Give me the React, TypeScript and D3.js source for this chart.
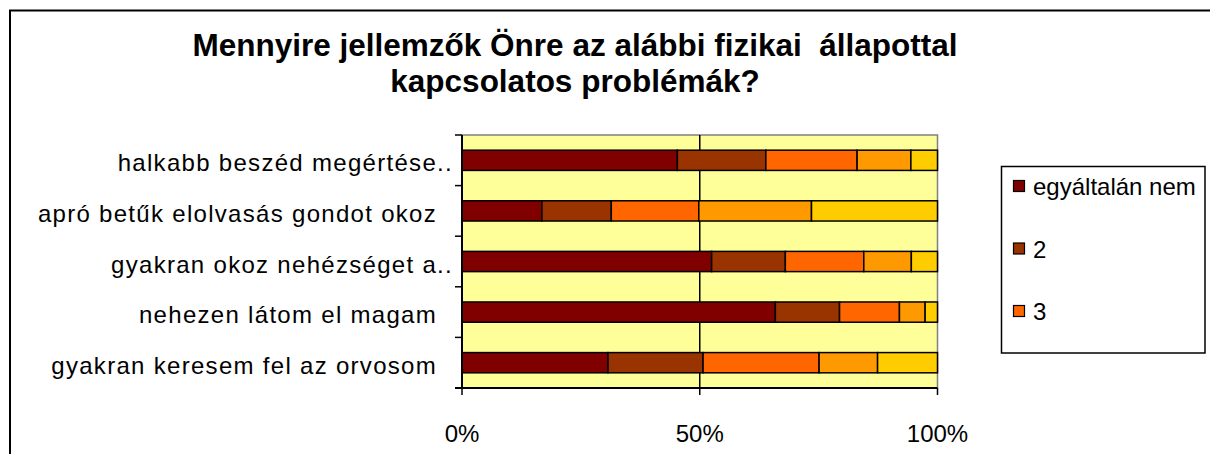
import React from "react";
import * as d3 from "d3";

const categories = [
  "halkabb beszéd megértése..",
  "apró betűk elolvasás gondot okoz  ",
  "gyakran okoz nehézséget a..",
  "nehezen látom el magam  ",
  "gyakran keresem fel az orvosom  ",
];
const seriesNames = ["egyáltalán nem", "2", "3", "4", "nagyon jellemző"];
const s1 = [45.3, 16.8, 52.5, 65.9, 30.7];
const s2 = [18.6, 14.6, 15.5, 13.5, 20.0];
const s3 = [19.2, 18.4, 16.5, 12.6, 24.4];
const s4 = [11.3, 23.7, 10.0, 5.4, 12.3];
const s5 = [5.6, 26.5, 5.5, 2.6, 12.6];
const seriesValues = [s1, s2, s3, s4, s5];
const colors = ["#800000", "#993300", "#FF6600", "#FF9900", "#FFCC00"];
const xTicks = [0, 0.5, 1];
const titleLines = [
  "Mennyire jellemzők Önre az alábbi fizikai  állapottal",
  "kapcsolatos problémák?",
];

const FONT = "'Liberation Sans', Arial, sans-serif";

export default function App() {
  const W = 1210, H = 454;
  const left = 462, right = 937.5, top = 135, bottom = 388;
  const x = d3.scaleLinear().domain([0, 1]).range([left, right]);
  const y = d3
    .scaleBand<string>()
    .domain(categories)
    .range([top, bottom])
    .paddingInner(0.6)
    .paddingOuter(0.3);

  const rows = categories.map((c, i) => {
    const r: any = { cat: c };
    const total = d3.sum(seriesValues, (s) => s[i]);
    seriesNames.forEach((n, k) => (r[n] = seriesValues[k][i] / total));
    return r;
  });
  const stacked = d3.stack<any>().keys(seriesNames)(rows);

  const boundaries = d3.range(categories.length + 1).map(
    (i) => top + (i * (bottom - top)) / categories.length
  );

  const legend = { x: 1001.5, y: 166.5, w: 203.5, h: 186.5 };

  return (
    <svg
      width={W}
      height={H}
      style={{ position: "absolute", left: 0, top: 0, display: "block", background: "#fff" }}
      fontFamily={FONT}
    >
      <defs>
        <clipPath id="legclip">
          <rect x={legend.x} y={legend.y} width={legend.w} height={legend.h} />
        </clipPath>
      </defs>
      <rect x={0} y={0} width={W} height={H} fill="#fff" />
      {/* outer chart frame */}
      <rect x={10} y={10.5} width={1220} height={460} fill="none" stroke="#000" strokeWidth={2} />

      {/* title */}
      {titleLines.map((t, i) => (
        <text
          key={i}
          x={575}
          y={56 + i * 36}
          textAnchor="middle"
          fontWeight="bold"
          fontSize={31.5}
          style={{ whiteSpace: "pre" }}
        >
          {t}
        </text>
      ))}

      {/* plot area */}
      <rect x={left} y={top} width={right - left} height={bottom - top} fill="#FFFF99" stroke="#808080" strokeWidth={1.5} />
      {/* vertical gridlines */}
      {xTicks.slice(1, -1).map((t) => (
        <line key={t} x1={x(t)} x2={x(t)} y1={top} y2={bottom} stroke="#000" strokeWidth={1.5} />
      ))}

      {/* bars */}
      {stacked.map((layer, k) => (
        <g key={k}>
          {layer.map((d, i) => (
            <rect
              key={i}
              x={x(d[0])}
              y={y(categories[i])!}
              width={x(d[1]) - x(d[0])}
              height={y.bandwidth()}
              fill={colors[k]}
              stroke="#000"
              strokeWidth={1.5}
            />
          ))}
        </g>
      ))}

      {/* axes */}
      <line x1={left} x2={left} y1={top} y2={bottom} stroke="#000" strokeWidth={2} />
      <line x1={left - 7} x2={right} y1={bottom} y2={bottom} stroke="#000" strokeWidth={2} />
      {boundaries.map((b, i) => (
        <line key={i} x1={left - 7} x2={left} y1={b} y2={b} stroke="#000" strokeWidth={1.5} />
      ))}
      {xTicks.map((t) => (
        <g key={t}>
          <line x1={x(t)} x2={x(t)} y1={bottom} y2={bottom + 7} stroke="#000" strokeWidth={1.5} />
          <text x={x(t)} y={441.5} textAnchor="middle" fontSize={24}>
            {d3.format(".0%")(t)}
          </text>
        </g>
      ))}

      {/* category labels */}
      {categories.map((c) => (
        <text
          key={c}
          x={453}
          y={y(c)! + y.bandwidth() / 2 + 11}
          textAnchor="end"
          fontSize={24}
          letterSpacing={1.3}
          style={{ whiteSpace: "pre" }}
        >
          {c}
        </text>
      ))}

      {/* legend */}
      <rect x={legend.x} y={legend.y} width={legend.w} height={legend.h} fill="#fff" stroke="#000" strokeWidth={1.5} />
      <g clipPath="url(#legclip)">
        {seriesNames.map((n, k) => (
          <g key={n} transform={`translate(${legend.x}, ${legend.y + 19.5 + k * 62.5})`}>
            <rect x={12} y={-5.5} width={11} height={11} fill={colors[k]} stroke="#000" strokeWidth={1.2} />
            <text x={31.5} y={9} fontSize={24}>
              {n}
            </text>
          </g>
        ))}
      </g>
    </svg>
  );
}
